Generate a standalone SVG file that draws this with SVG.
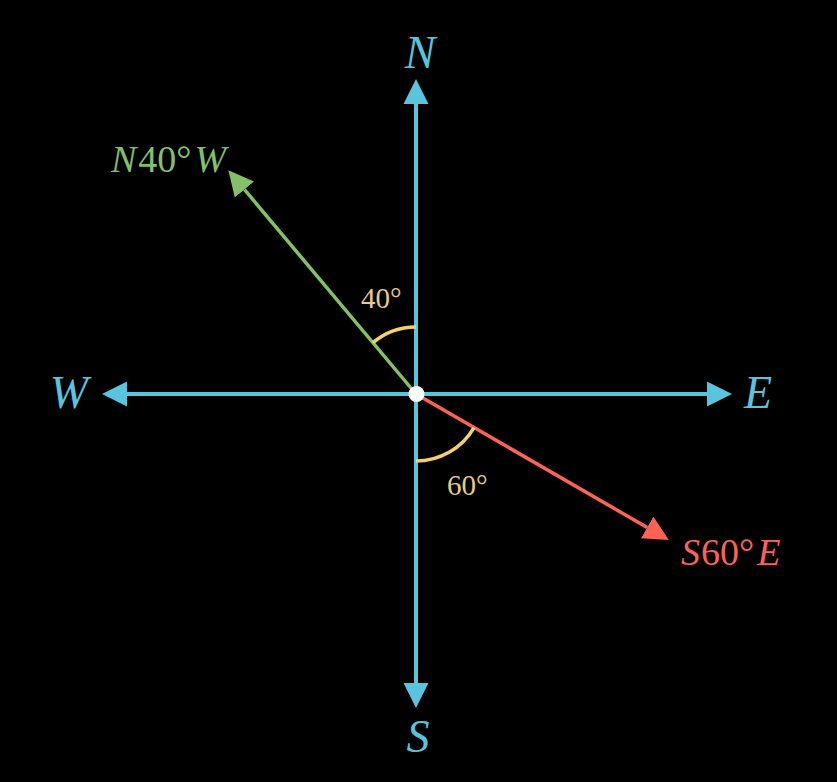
<svg xmlns="http://www.w3.org/2000/svg" width="837" height="782" viewBox="0 0 837 782">
<style>
.ax{stroke:#58C4DD;stroke-width:4;fill:none}
.gr{stroke:#83C167;stroke-width:3.5;fill:none}
.rd{stroke:#FC6255;stroke-width:3.5;fill:none}
.arc{stroke:#F4D06A;stroke-width:3.5;fill:none}
.lbl{font-family:"Liberation Serif","DejaVu Serif",serif;font-style:italic}
.num{font-style:normal}
.blue{fill:#58C4DD}
.green{fill:#83C167}
.red{fill:#FC6255}
.yel{fill:#E9CB7E}
</style>
<defs>
<marker id="hb" markerUnits="userSpaceOnUse" markerWidth="25" markerHeight="26" refX="0" refY="13" orient="auto"><path d="M0,0.5 L25,13 L0,25.5 Z" fill="#58C4DD"/></marker>
<marker id="hg" markerUnits="userSpaceOnUse" markerWidth="25" markerHeight="26" refX="0" refY="13" orient="auto"><path d="M0,0.5 L25,13 L0,25.5 Z" fill="#83C167"/></marker>
<marker id="hr" markerUnits="userSpaceOnUse" markerWidth="25" markerHeight="26" refX="0" refY="13" orient="auto"><path d="M0,0.5 L25,13 L0,25.5 Z" fill="#FC6255"/></marker>
</defs>
<rect width="837" height="782" fill="#000"/>
<g id="connectors">
<line id="axis-n" class="ax" x1="416" y1="394" x2="416" y2="104" marker-end="url(#hb)"/>
<line id="axis-s" class="ax" x1="416" y1="394" x2="416" y2="683" marker-end="url(#hb)"/>
<line id="axis-w" class="ax" x1="416" y1="394" x2="127" y2="394" marker-end="url(#hb)"/>
<line id="axis-e" class="ax" x1="416" y1="394" x2="707" y2="394" marker-end="url(#hb)"/>
<line id="bearing-n40w" class="gr" x1="416" y1="394" x2="244.4" y2="189.5" marker-end="url(#hg)"/>
<line id="bearing-s60e" class="rd" x1="416" y1="394" x2="647.2" y2="527.5" marker-end="url(#hr)"/>
<path id="arc-40" class="arc" d="M416,327 A67,67 0 0 0 372.9,342.7"/>
<path id="arc-60" class="arc" d="M416,461 A67,67 0 0 0 474,427.5"/>
</g>
<g id="origin"><circle cx="416.5" cy="394" r="8" fill="#fff"/></g>
<g id="label-n"><text class="lbl blue" x="420" y="68" font-size="46" text-anchor="middle">N</text></g>
<g id="label-s"><text class="lbl blue" x="418" y="752" font-size="46" text-anchor="middle">S</text></g>
<g id="label-w"><text class="lbl blue" x="69" y="408" font-size="46" text-anchor="middle">W</text></g>
<g id="label-e"><text class="lbl blue" x="758" y="408" font-size="46" text-anchor="middle">E</text></g>
<g id="label-n40w"><text class="lbl green" x="111" y="172" font-size="38">N<tspan class="num" dx="2">40</tspan><tspan class="num">°</tspan><tspan dx="3">W</tspan></text></g>
<g id="label-s60e"><text class="lbl red" x="681" y="565" font-size="38">S<tspan class="num" dx="1">60</tspan><tspan class="num">°</tspan><tspan dx="3">E</tspan></text></g>
<g id="label-40"><text class="lbl yel num" x="361" y="308" font-size="29">40°</text></g>
<g id="label-60"><text class="lbl yel num" x="447" y="495" font-size="29">60°</text></g>
</svg>
